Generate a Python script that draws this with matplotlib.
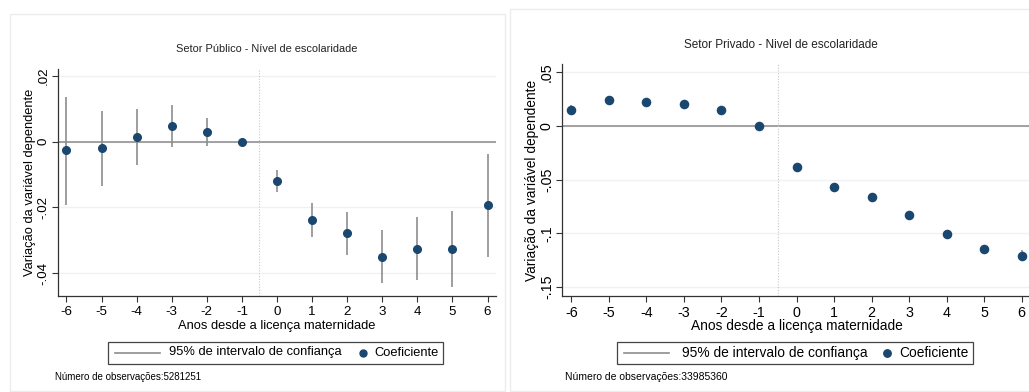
import matplotlib.pyplot as plt
from matplotlib.patches import Rectangle
from matplotlib.lines import Line2D

plt.rcParams['font.family'] = ['Liberation Sans', 'DejaVu Sans']

# event time relative to maternity leave
years = [-6, -5, -4, -3, -2, -1, 0, 1, 2, 3, 4, 5, 6]
xticklabels = ['-6', '-5', '-4', '-3', '-2', '-1', '0', '1', '2', '3', '4', '5', '6']

# public sector estimates
pub_coef = [-0.0027, -0.0019, 0.0015, 0.0047, 0.0029, 0.0, -0.0119,
            -0.0238, -0.0279, -0.0350, -0.0327, -0.0328, -0.0194]
pub_hi = [0.0136, 0.0094, 0.0100, 0.0112, 0.0071, 0.0, -0.0085,
          -0.0187, -0.0213, -0.0270, -0.0230, -0.0212, -0.0038]
pub_lo = [-0.0192, -0.0134, -0.0071, -0.0017, -0.0012, 0.0, -0.0153,
          -0.0289, -0.0345, -0.0430, -0.0422, -0.0444, -0.0350]
pub_yticks = [0.02, 0, -0.02, -0.04]
pub_yticklabels = ['.02', '0', '-.02', '-.04']
pub_nobs = 5281251

# private sector estimates
priv_coef = [0.0149, 0.0246, 0.0227, 0.0202, 0.0152, 0.0, -0.0386,
             -0.0566, -0.0665, -0.0833, -0.1001, -0.1147, -0.1206]
priv_hi = [0.0196, 0.0262, 0.0242, 0.0217, 0.0167, 0.0, -0.0372,
           -0.0550, -0.0649, -0.0815, -0.0983, -0.1127, -0.1157]
priv_lo = [0.0100, 0.0230, 0.0212, 0.0187, 0.0137, 0.0, -0.0400,
           -0.0582, -0.0681, -0.0851, -0.1019, -0.1167, -0.1259]
priv_yticks = [0.05, 0, -0.05, -0.1, -0.15]
priv_yticklabels = ['.05', '0', '-.05', '-.1', '-.15']
priv_nobs = 33985360

NAVY = '#1a476f'
CI_GREY = '#8d8d8d'
W, H = 1029, 392

fig = plt.figure(figsize=(W / 100, H / 100), dpi=100)


def px(x0, y0, x1, y1):
    """pixel box (top-left origin) -> figure fraction rect"""
    return [x0 / W, 1 - y1 / H, (x1 - x0) / W, (y1 - y0) / H]


def panel(box, frame, title, title_xy, yticks, yticklabels, ylim,
          coef, lo, hi, legend_box, nobs, nobs_xy, k=1.0, xpad=0):
    # faint outer frame of each graph
    fig.patches.append(Rectangle((frame[0] / W, 1 - frame[3] / H),
                                 (frame[2] - frame[0]) / W,
                                 (frame[3] - frame[1]) / H,
                                 transform=fig.transFigure, fill=False,
                                 edgecolor='#ececec', lw=1.0, zorder=0))
    ax = fig.add_axes(px(*box))
    ax.set_xlim(-6.24, 6.24)
    ax.set_ylim(*ylim)
    for y in yticks:
        ax.axhline(y, color='#eef2f2', lw=1.0, zorder=0)
    ax.axhline(0, color='#9a9a9a', lw=1.3, zorder=1)
    ax.axvline(-0.5, color='#c8c8c8', lw=0.8, ls=(0, (1, 1.5)), zorder=1)
    ax.vlines(years, lo, hi, color=CI_GREY, lw=1.2, zorder=2)
    ax.plot(years, coef, 'o', color=NAVY, ms=5.5 * k, zorder=3)

    ax.set_xticks(years)
    ax.set_xticklabels(xticklabels)
    ax.set_yticks(yticks)
    ax.set_yticklabels(yticklabels, rotation=90, va='center')
    ax.tick_params(axis='both', length=4, width=0.8, color='#333333',
                   labelsize=9.6 * k, pad=2)
    ax.tick_params(axis='x', pad=3.5)
    for s in ['top', 'right']:
        ax.spines[s].set_visible(False)
    for s in ['left', 'bottom']:
        ax.spines[s].set_color('#333333')
        ax.spines[s].set_linewidth(0.9)
    ax.set_xlabel('Anos desde a licença maternidade', fontsize=9.3 * k,
                  labelpad=xpad)
    ax.set_ylabel('Variação da variável dependente', fontsize=9.3 * k,
                  labelpad=1.0)

    fig.text(title_xy[0] / W, 1 - title_xy[1] / H, title, fontsize=7.9 * k,
             ha='center', va='center', color='#222222')

    # legend box
    lx0, ly0, lx1, ly1 = legend_box
    fig.patches.append(Rectangle((lx0 / W, 1 - ly1 / H), (lx1 - lx0) / W,
                                 (ly1 - ly0) / H, transform=fig.transFigure,
                                 fill=False, edgecolor='#444444', lw=0.9))
    cy = 1 - (ly0 + ly1) / 2 / H
    fig.lines.append(Line2D([(lx0 + 7) / W, (lx0 + 52) / W], [cy, cy],
                            transform=fig.transFigure, color=CI_GREY, lw=1.2))
    fig.text((lx0 + 61 * k) / W, cy, '95% de intervalo de confiança',
             fontsize=9.3 * k, va='center', ha='left')
    fig.lines.append(Line2D([(lx1 - 80 * k) / W], [cy], marker='o',
                            ms=5 * k, color=NAVY, transform=fig.transFigure))
    fig.text((lx1 - 69 * k) / W, cy, 'Coeficiente', fontsize=9.3 * k,
             va='center', ha='left')

    fig.text(nobs_xy[0] / W, 1 - nobs_xy[1] / H,
             'Número de observações:%d' % nobs, fontsize=7.0 * k,
             va='center', ha='left')
    return ax


panel((58, 69, 496, 295.7), (10, 14, 505, 391),
      'Setor Público - Nível de escolaridade', (267, 49),
      pub_yticks, pub_yticklabels, (-0.0469, 0.0221),
      pub_coef, pub_lo, pub_hi, (108, 341.5, 443, 363.5),
      pub_nobs, (55, 377), xpad=1.5)

panel((562.3, 64.3, 1030.7, 295.7), (510, 9, 1035, 391),
      'Setor Privado - Nivel de escolaridade', (781, 45),
      priv_yticks, priv_yticklabels, (-0.158, 0.0575),
      priv_coef, priv_lo, priv_hi, (617, 341.5, 973, 364),
      priv_nobs, (565, 377), k=1.07, xpad=-1.0)

fig.savefig('out.png', dpi=100)
